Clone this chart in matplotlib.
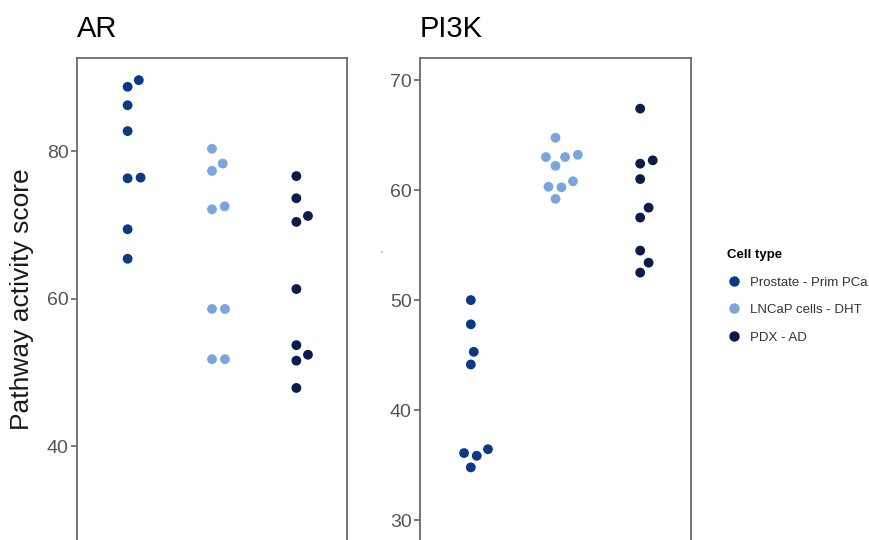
import numpy as np
import matplotlib
matplotlib.use("Agg")
import matplotlib.pyplot as plt
from matplotlib.lines import Line2D

plt.rcParams['font.family'] = ['Liberation Sans', 'DejaVu Sans']

# data
cell_types = ["Prostate - Prim PCa", "LNCaP cells - DHT", "PDX - AD"]
colors = ["#0a3a85", "#7aa6dc", "#0b1c4a"]

ar_prostate = [88.7, 89.6, 86.2, 82.7, 76.3, 76.4, 69.4, 65.4]
ar_lncap = [80.3, 78.3, 77.3, 72.5, 72.1, 58.6, 58.6, 51.8, 51.8]
ar_pdx = [76.6, 73.6, 71.2, 70.4, 61.3, 53.7, 52.4, 51.6, 47.9]

pi3k_prostate = [50.0, 47.8, 45.3, 44.15, 36.45, 36.1, 35.85, 34.8]
pi3k_lncap = [64.75, 63.2, 63.0, 63.0, 62.2, 60.8, 60.3, 60.25, 59.2]
pi3k_pdx = [67.4, 62.7, 62.4, 61.0, 58.4, 57.5, 54.5, 53.4, 52.5]

panels = [("AR", [ar_prostate, ar_lncap, ar_pdx], (27.3, 92.6), [40, 60, 80]),
          ("PI3K", [pi3k_prostate, pi3k_lncap, pi3k_pdx], (28.2, 72.0), [30, 40, 50, 60, 70])]

W, H = 870, 540
fig = plt.figure(figsize=(W / 100, H / 100), dpi=100)


def swarm(vals, ppu_y, d=13.0):
    # simple beeswarm: ascending order, smallest offset that does not overlap
    ys = np.array(vals) * ppu_y
    xs = np.zeros(len(vals))
    placed = []
    for i in np.argsort(vals, kind="stable"):
        cands = [0.0]
        for px, py in placed:
            dy = abs(ys[i] - py)
            if dy < d:
                dx = np.sqrt(d * d - dy * dy)
                cands += [px + dx, px - dx]
        cands = sorted(cands, key=lambda c: (round(abs(c), 6), -c))
        for c in cands:
            if all((c - px) ** 2 + (ys[i] - py) ** 2 >= d * d - 1e-6 for px, py in placed):
                xs[i] = c
                break
        placed.append((xs[i], ys[i]))
    return xs


lefts = [77, 420]
widths = [270, 271]
top = 58
for k, (name, groups, ylim, ticks) in enumerate(panels):
    ax = fig.add_axes([lefts[k] / W, 0, widths[k] / W, 1 - top / H])
    ax.set_xlim(0.4, 3.6)
    ax.set_ylim(*ylim)
    ppu_y = (H - top) / (ylim[1] - ylim[0])
    ppu_x = widths[k] / 3.2
    for g, vals in enumerate(groups):
        off = swarm(vals, ppu_y) / ppu_x
        ax.scatter(g + 1 + off, vals, s=50, color=colors[g], edgecolors="none", zorder=3)
    ax.set_xticks([])
    ax.set_yticks(ticks)
    ax.tick_params(axis="y", labelsize=14, labelcolor="#555555", color="#555555",
                   length=4, width=1.1, pad=2)
    for s in ["left", "right", "top"]:
        ax.spines[s].set_color("#6b6b6b")
        ax.spines[s].set_linewidth(1.3)
    ax.spines["bottom"].set_visible(False)
    ax.set_title(name, loc="left", fontsize=21, pad=15)
    if k == 0:
        ax.set_ylabel("Pathway activity score", fontsize=19, color="#1a1a1a")
        ax.yaxis.set_label_coords((34 - 77) / 270, 0.5)

fig.text(381 / W, 1 - 256 / H, "'", fontsize=8, color="#888888", ha="center", va="center")

handles = [Line2D([], [], marker="o", linestyle="none", markersize=7.5,
                  markerfacecolor=c, markeredgecolor="none") for c in colors]
leg = fig.legend(handles, cell_types, title="Cell type", loc="upper left",
                 bbox_to_anchor=(722 / W, 1 - 244 / H), frameon=False,
                 fontsize=9.5, title_fontsize=9.5, handlelength=1.0,
                 handletextpad=0.7, labelspacing=1.15, borderaxespad=0)
leg.get_title().set_fontweight("bold")
leg._legend_box.align = "left"
for t in leg.get_texts():
    t.set_color("#333333")

fig.savefig("out.png", dpi=100)
